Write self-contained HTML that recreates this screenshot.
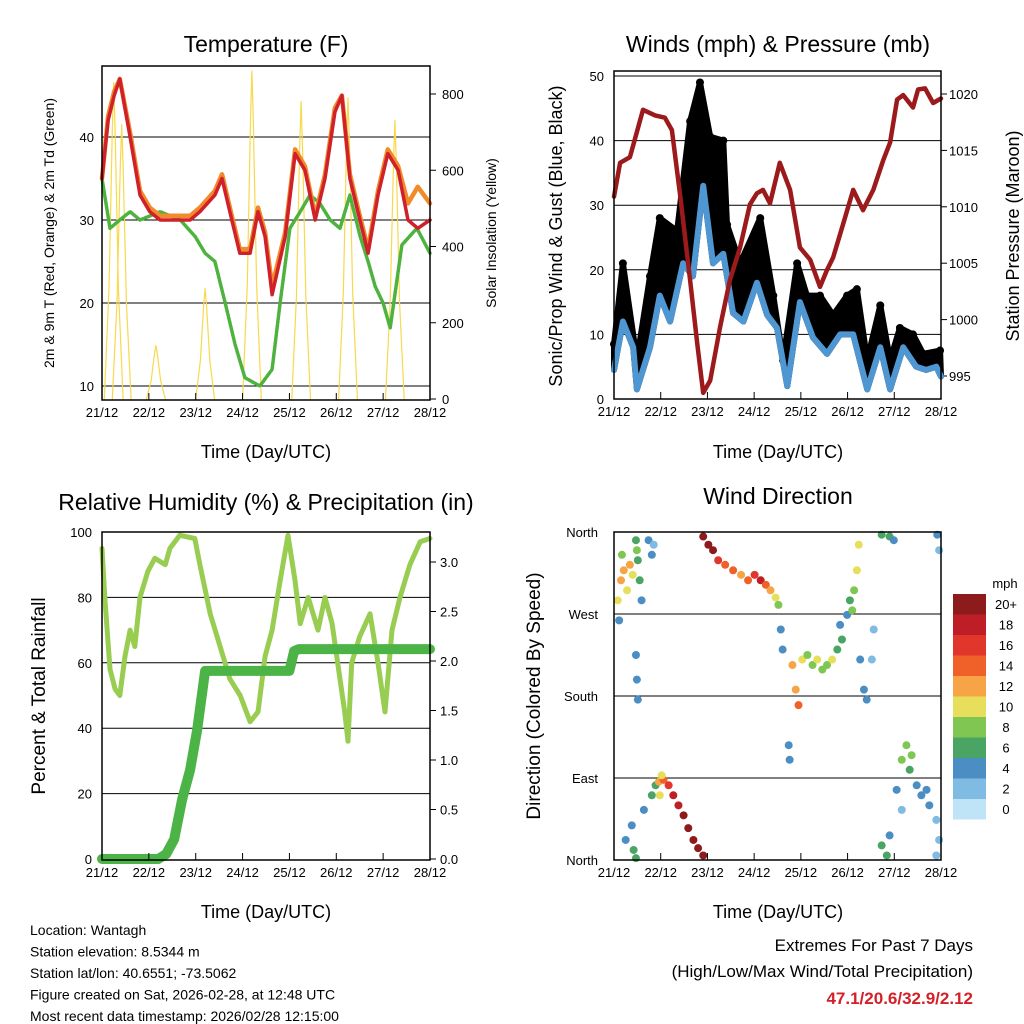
<!DOCTYPE html>
<html><head><meta charset="utf-8"><style>
body{margin:0;background:#fff}
svg{display:block;font-family:"Liberation Sans",Arial,sans-serif}
</style></head><body>
<svg id="s" width="1024" height="1024" viewBox="0 0 1024 1024" xmlns="http://www.w3.org/2000/svg">
<g id="g"></g>
</svg>
<script>
// ---------- data ----------
const dayLabels=["21/12","22/12","23/12","24/12","25/12","26/12","27/12","28/12"];
const tempTimes=[0,.13,.26,.38,.6,.81,1.02,1.24,1.56,1.88,2.09,2.41,2.56,2.77,2.94,3.16,3.33,3.48,3.63,3.91,4.12,4.33,4.55,4.76,4.97,5.12,5.29,5.46,5.68,5.89,6.1,6.32,6.53,6.74,7];
const tempRed=[35,42,45,47,40,33,31,30,30,30,31,33,35,30,26,26,31,28,21,28,38,36,30,35,43,45,35,31,26,33,38,36,30,29,30];
const tempOrange=[35,42.5,45.5,47,40.5,33.5,31.5,30.5,30.5,30.5,31.5,33.5,35.5,30.5,26.5,26.5,31.5,28.5,22,28.5,38.5,36.5,30.5,35.5,43.5,45,35.5,31.5,26.5,33.5,38.5,36.5,32,34,32];
const dewTimes=[0,.17,.38,.6,.81,1.24,1.67,1.99,2.2,2.41,2.63,2.84,3.05,3.37,3.63,3.8,4.01,4.23,4.44,4.65,4.87,5.08,5.29,5.51,5.68,5.83,6.0,6.15,6.4,6.72,7];
const dewVals=[35,29,30,31,30,31,30,28,26,25,20,15,11,10,12,20,29,31,33,32,30,29,33,28,25,22,20,17,27,29,26];
const solarDays=[0.25,0.42,1.15,2.2,3.2,4.25,5.25,6.25];
const solarPeaks=[830,720,140,290,860,780,790,730];
const pressTimes=[0,.13,.34,.62,.88,1.09,1.24,1.41,1.63,1.78,1.91,2.06,2.27,2.48,2.7,2.91,3.06,3.19,3.34,3.55,3.77,3.98,4.2,4.41,4.56,4.69,4.9,5.12,5.33,5.55,5.76,5.91,6.06,6.19,6.4,6.51,6.66,6.83,7];
const pressVals=[1010.9,1013.9,1014.4,1018.6,1018.1,1017.9,1016.8,1011.2,1003.5,997.9,993.5,994.6,999.3,1003.5,1006.4,1010.2,1011.2,1011.5,1010.3,1013.9,1011.5,1006.4,1005.3,1002.9,1004.4,1005.5,1008.4,1011.5,1009.7,1011.5,1014.1,1015.7,1019.5,1019.9,1018.8,1020.4,1020.5,1019.2,1019.6];
const sonicTimes=[0,.19,.41,.49,.77,.98,1.2,1.48,1.69,1.91,2.12,2.34,2.55,2.77,3.06,3.28,3.49,3.71,3.98,4.26,4.56,4.84,5.12,5.42,5.7,5.91,6.19,6.47,6.68,6.9,7];
const sonicVals=[4.5,12,8,1.5,8,16,12,21,19,33,21,22.5,13.3,12,18,13,11,2,15,9.5,7,10,10,1.5,8,1.5,8,5,4.5,5,3.5];
const gustTimes=[0,.19,.49,.77,.98,1.35,1.63,1.84,2.06,2.34,2.42,2.7,3.13,3.41,3.62,3.92,4.13,4.41,4.69,4.99,5.2,5.42,5.7,5.91,6.12,6.4,6.62,6.98];
const gustVals=[8.5,21,6,19,28,26,43,49,40.6,40,27,21,28,16,6,21,16,16,13,16,17,6,14.5,6,11,10,7,7.5];
const rhTimes=[0,.06,.17,.28,.38,.49,.6,.7,.81,.98,1.13,1.35,1.45,1.66,1.98,2.09,2.31,2.52,2.73,2.95,3.16,3.33,3.48,3.63,3.8,3.97,4.12,4.23,4.4,4.61,4.76,4.91,5.08,5.18,5.25,5.33,5.5,5.72,5.89,6.04,6.19,6.36,6.57,6.79,7];
const rhVals=[95,80,58,52,50,62,70,65,80,88,92,90,95,99,98,90,75,65,55,50,42,45,62,70,85,99,85,72,80,70,80,72,55,45,36,60,68,75,60,45,70,80,90,97,98];
const precipTimes=[0,1.2,1.37,1.54,1.71,1.88,2.03,2.2,4.0,4.1,4.2,7];
const precipVals=[0,0,0.05,0.2,0.6,0.9,1.3,1.9,1.9,2.1,2.12,2.12];
const dirT=[.08,.15,.21,.28,.34,.40,.11,.17,.47,.51,.55,.59,.49,.74,.81,.85,.47,.49,.51,.42,.47,.25,.38,.64,.81,.89,.96,1.06,1.17,1.27,1.38,1.49,1.59,1.70,1.80,1.91,.98,1.02,1.91,2.02,2.12,2.23,2.38,2.55,2.72,2.87,3.01,3.14,3.25,3.35,3.46,3.52,3.57,3.61,3.74,3.76,3.82,3.89,3.95,4.03,4.14,4.25,4.35,4.46,4.56,4.67,4.78,4.88,4.84,4.99,5.05,5.14,5.20,5.24,5.10,5.27,5.35,5.41,5.56,5.52,5.73,5.90,5.99,5.73,5.84,5.90,6.16,6.26,6.37,6.33,6.48,6.58,6.69,6.75,6.90,6.96,6.90,6.05,6.16,6.92,6.96];
const dirD=[285,307,318,296,324,313,263,335,351,329,307,285,340,351,335,346,225,198,176,11,2,22,38,55,71,82,86,88,82,71,60,49,35,22,13,5,71,93,355,346,340,329,324,318,313,307,313,307,302,296,288,280,253,231,126,110,214,187,170,220,225,214,220,209,214,220,231,242,258,269,285,296,318,346,274,220,187,176,253,220,357,355,351,16,5,27,110,126,115,99,82,71,77,60,44,22,5,77,55,357,340];
const dirS=[10,12,11,10,12,9,4,7,6,5,6,4,7,3,3,2,3,3,4,6,5,3,4,4,5,6,12,14,16,17,18,19,20,20,21,22,9,10,21,20,19,16,14,13,12,14,16,17,14,12,10,8,3,4,4,3,12,11,13,10,8,8,9,8,7,9,6,5,4,4,5,8,9,10,7,3,3,4,1,1,6,5,3,6,6,4,7,8,7,6,4,4,3,4,2,2,1,3,2,3,2];
const cbLabels=["20+","18","16","14","12","10","8","6","4","2","0"];
const cbColors=["#8e1b1b","#be1e25","#e0362b","#ef6129","#f6a446","#e7df5c","#7fc653","#4aa564","#4b8ec4","#7fbbe3","#bfe4f7"];
const tempTicks=[10,20,30,40];
const solarTicks=[0,200,400,600,800];
const windTicks=[0,10,20,30,40,50];
const pressTicks=[995,1000,1005,1010,1015,1020];
const rhTicks=[0,20,40,60,80,100];
const precipTicks=[0,0.5,1,1.5,2,2.5,3];
const dirTicks=["North","East","South","West","North"];

// ---------- helpers ----------
const NS="http://www.w3.org/2000/svg";
const G=document.getElementById('g');
function mk(tag,at,parent){const e=document.createElementNS(NS,tag);for(const k in at)e.setAttribute(k,at[k]);(parent||G).appendChild(e);return e;}
function txt(x,y,s,size,anchor,extra){const e=mk('text',Object.assign({x:x,y:y,'font-size':size,'text-anchor':anchor||'middle',fill:'#000'},extra||{}));e.textContent=s;return e;}
function lin(d0,d1,p0,p1){return v=>p0+(v-d0)*(p1-p0)/(d1-d0);}
function ptsOf(xs,ys,xf,yf){return xs.map((t,i)=>xf(t).toFixed(1)+","+yf(ys[i]).toFixed(1));}
function poly(xs,ys,xf,yf,attrs){return mk('polyline',Object.assign({points:ptsOf(xs,ys,xf,yf).join(" "),fill:'none','stroke-linejoin':'round','stroke-linecap':'round'},attrs));}
function colorFor(s){const idx=Math.min(10,Math.floor(s/2+0.5));return cbColors[10-idx];}
function xAxis(x0,x1,yb){const xf=lin(0,7,x0,x1);dayLabels.forEach((l,i)=>{const x=xf(i);mk('line',{x1:x,x2:x,y1:yb,y2:yb-7,stroke:'#000'});const t=txt(x,yb+17,l,13);});return xf;}
function box(x0,y0,x1,y1){const r=mk('rect',{x:x0,y:y0,width:x1-x0,height:y1-y0,fill:'none',stroke:'#000','stroke-width':1.5});}

// ---------- Panel 1: Temperature ----------
(function(){
 const x0=102,x1=430,y0=66,y1=400;
 const xf=lin(0,7,x0,x1);
 const yT=lin(10,40,386,137);
 const yS=lin(0,800,399,94);
 tempTicks.forEach(v=>{const l=mk('line',{x1:x0,x2:x1,y1:yT(v),y2:yT(v),stroke:'#000','stroke-width':1});const t=txt(x0-8,yT(v)+5,v,13,'end');});
 solarTicks.forEach(v=>{mk('line',{x1:x1,x2:x1+6,y1:yS(v),y2:yS(v),stroke:'#000'});const t=txt(x1+12,yS(v)+5,v,13,'start');});
 solarDays.forEach((d,i)=>{const p=solarPeaks[i];const xs=[d-0.2,d-0.1,d-0.03,d,d+0.03,d+0.1,d+0.2];const fr=[0,0.35,0.85,1,0.85,0.35,0];const path=poly(xs,fr.map(f=>f*p),xf,yS,{stroke:'#f7d94c','stroke-width':1.2});});
 const dw=poly(dewTimes,dewVals,xf,yT,{stroke:'#4eb23e','stroke-width':3.5,'stroke-dasharray':'2 1.5'});
 const or=poly(tempTimes,tempOrange,xf,yT,{stroke:'#f08a2a','stroke-width':4.5});
 const rd=poly(tempTimes,tempRed,xf,yT,{stroke:'#d0202a','stroke-width':3.5});
 box(x0,y0,x1,y1);xAxis(x0,x1,y1);
 let t=txt(266,52,"Temperature (F)",23);
 t=txt(266,458,"Time (Day/UTC)",18);
 t=txt(0,0,"2m & 9m T (Red, Orange) & 2m Td (Green)",14,'middle',{transform:'translate(54,233) rotate(-90)'});
 t=txt(0,0,"Solar Insolation (Yellow)",14,'middle',{transform:'translate(496,233) rotate(-90)'});
})();

// ---------- Panel 2: Winds ----------
(function(){
 const x0=614,x1=941,y0=71,y1=399;
 const xf=lin(0,7,x0,x1);
 const yW=lin(0,50,399,76);
 const yP=lin(995,1020,376,94);
 windTicks.forEach(v=>{if(v>0){const l=mk('line',{x1:x0,x2:x1,y1:yW(v),y2:yW(v),stroke:'#000'});}const t=txt(x0-10,yW(v)+5,v,13,'end');});
 pressTicks.forEach(v=>{mk('line',{x1:x1,x2:x1+6,y1:yP(v),y2:yP(v),stroke:'#000'});const t=txt(x1+8,yP(v)+5,v,13,'start');});
 // gust band: area between sonic and gust
 const top=ptsOf(gustTimes,gustVals,xf,yW);
 const bot=ptsOf(sonicTimes,sonicVals,xf,yW).reverse();
 const band=mk('polygon',{points:top.concat(bot).join(" "),fill:'#000',stroke:'#000','stroke-width':6,'stroke-linejoin':'round'});
 
 
 gustTimes.forEach((tt,i)=>{const c=mk('circle',{cx:xf(tt),cy:yW(gustVals[i]),r:4,fill:'#000'});});
 const sl=poly(sonicTimes,sonicVals,xf,yW,{stroke:'#4f97d2','stroke-width':6});
 const pl=poly(pressTimes,pressVals,xf,yP,{stroke:'#9c1a1c','stroke-width':4.5});
 box(x0,y0,x1,y1);mk('line',{x1:x0,x2:x1,y1:76,y2:76,stroke:'#000'});xAxis(x0,x1,y1);
 let t=txt(778,52,"Winds (mph) & Pressure (mb)",23);
 t=txt(778,458,"Time (Day/UTC)",18);
 t=txt(0,0,"Sonic/Prop Wind & Gust (Blue, Black)",18,'middle',{transform:'translate(562,236) rotate(-90)'});
 t=txt(0,0,"Station Pressure (Maroon)",18,'middle',{transform:'translate(1019,236) rotate(-90)'});
})();

// ---------- Panel 3: RH & precip ----------
(function(){
 const x0=102,x1=430,y0=532,y1=860;
 const xf=lin(0,7,x0,x1);
 const yR=lin(0,100,859,532);
 const yPr=lin(0,3,859,562);
 rhTicks.forEach(v=>{if(v>0){const l=mk('line',{x1:x0,x2:x1,y1:yR(v),y2:yR(v),stroke:'#000'});}const t=txt(x0-10,yR(v)+5,v,13,'end');});
 precipTicks.forEach(v=>{mk('line',{x1:x1,x2:x1+6,y1:yPr(v),y2:yPr(v),stroke:'#000'});const t=txt(x1+10,yPr(v)+5,v.toFixed(1),13,'start');});
 const rl=poly(rhTimes,rhVals,xf,yR,{stroke:'#98cd52','stroke-width':5});
 const pl=poly(precipTimes,precipVals,xf,yPr,{stroke:'#4cb446','stroke-width':10});
 box(x0,y0,x1,y1);xAxis(x0,x1,y1);
 let t=txt(266,510,"Relative Humidity (%) & Precipitation (in)",23);
 t=txt(266,918,"Time (Day/UTC)",18);
 t=txt(0,0,"Percent & Total Rainfall",19,'middle',{transform:'translate(45,696) rotate(-90)'});
})();

// ---------- Panel 4: wind direction ----------
(function(){
 const x0=614,x1=941,y0=532,y1=860;
 const xf=lin(0,7,x0,x1);
 const yD=lin(0,360,860,532);
 dirTicks.forEach((l,i)=>{const y=yD(i*90);if(i>0&&i<4){const g=mk('line',{x1:x0,x2:x1,y1:y,y2:y,stroke:'#000'});}const t=txt(x0-16,y+5,l,13,'end');});
 dirT.forEach((tt,i)=>{const c=mk('circle',{cx:xf(tt),cy:yD(dirD[i]),r:4,fill:colorFor(dirS[i])});});
 box(x0,y0,x1,y1);xAxis(x0,x1,y1);
 let t=txt(778,504,"Wind Direction",23);
 t=txt(778,918,"Time (Day/UTC)",18);
 t=txt(0,0,"Direction (Colored By Speed)",19,'middle',{transform:'translate(540,696) rotate(-90)'});
 t=txt(1005,588,"mph",13);
 cbLabels.forEach((l,i)=>{const y=594+i*20.5;const r=mk('rect',{x:953,y:y,width:33,height:20.5,fill:cbColors[i]});const tl=txt(1006,y+15,l,13);});
})();

// ---------- footer ----------
const info=["Location: Wantagh","Station elevation: 8.5344 m","Station lat/lon: 40.6551; -73.5062","Figure created on Sat, 2026-02-28, at 12:48 UTC","Most recent data timestamp: 2026/02/28 12:15:00"];
info.forEach((s,i)=>{const t=txt(30,935+i*21.5,s,14,'start');});
let ft=txt(973,951,"Extremes For Past 7 Days",17,'end');
ft=txt(973,977,"(High/Low/Max Wind/Total Precipitation)",17,'end');
ft=txt(973,1004,"47.1/20.6/32.9/2.12",17,'end',{fill:'#d42027','font-weight':'bold'});
</script>
</body></html>
